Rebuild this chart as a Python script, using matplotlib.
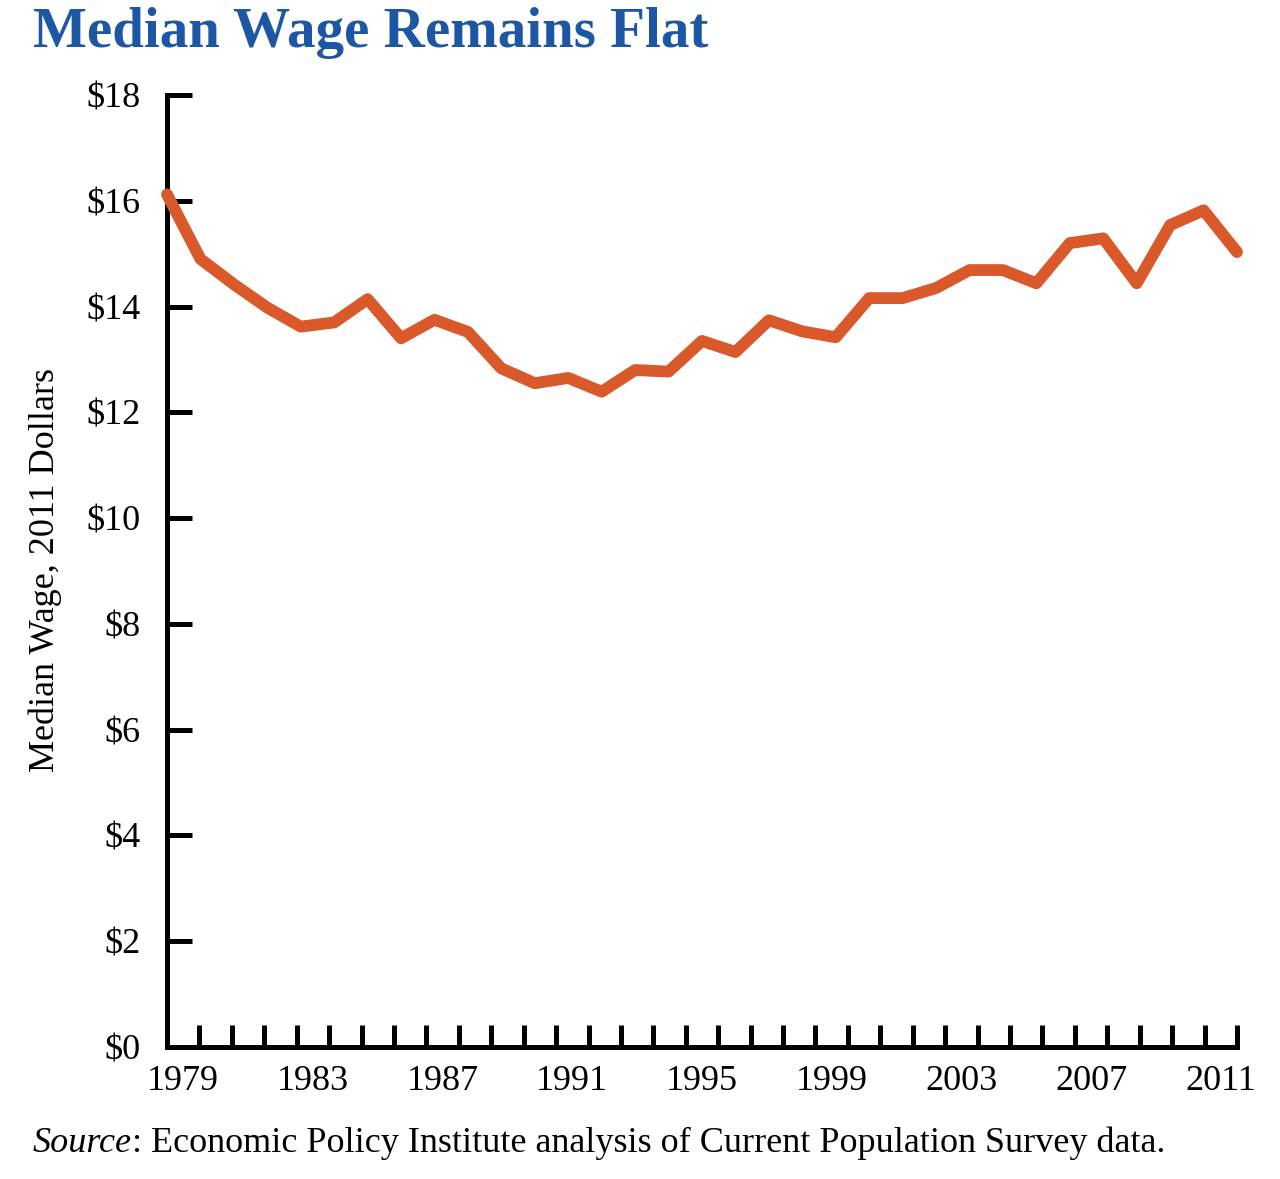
import numpy as np
import matplotlib.pyplot as plt

# Median hourly wage, 2011 dollars
years = list(range(1979, 2012))
wages = [16.12, 14.90, 14.42, 13.98, 13.62, 13.70, 14.14, 13.40, 13.75, 13.52,
         12.83, 12.55, 12.65, 12.39, 12.80, 12.77, 13.35, 13.14, 13.74, 13.53,
         13.42, 14.16, 14.16, 14.35, 14.69, 14.69, 14.44, 15.20, 15.29, 14.44,
         15.54, 15.82, 15.03]
label_years = years[::4]
y_ticks = list(range(0, 19, 2))
y_labels = ["$%d" % v for v in y_ticks]

TITLE = "Median Wage Remains Flat"
YLABEL = "Median Wage, 2011 Dollars"
SOURCE = ": Economic Policy Institute analysis of Current Population Survey data."

LINE_COLOR = "#d9592a"
TITLE_COLOR = "#1d56a3"
SERIF = "Liberation Serif"
FS = 26

plt.rcParams["font.family"] = SERIF

fig = plt.figure(figsize=(12.8, 11.79), dpi=100)
ax = fig.add_axes([167 / 1280, 1 - 1047 / 1179, (1237 - 167) / 1280, (1047 - 95) / 1179])

n = len(years)
x = np.arange(n)
ax.plot(x, wages, color=LINE_COLOR, lw=8.5, solid_capstyle="round",
        solid_joinstyle="round", clip_on=False, zorder=3)

ax.set_xlim(0, n - 1)
ax.set_ylim(0, 18)

# category-style axis: ticks on boundaries, labels centred in each slot
slot = (n - 1) / n
ax.set_xticks([k * slot for k in range(1, n + 1)])
ax.set_xticklabels([])
ax.set_xticks([(years.index(yr) + 0.5) * slot for yr in label_years], minor=True)
ax.set_xticklabels([str(yr) for yr in label_years], minor=True)
ax.tick_params(axis="x", which="major", direction="in", length=16, width=3.6)
ax.tick_params(axis="x", which="minor", length=0, pad=13, labelsize=FS)

ax.set_yticks(y_ticks)
ax.set_yticklabels([s.replace("$", "\\$") for s in y_labels])
ax.tick_params(axis="y", direction="in", length=18, width=3.6, pad=19, labelsize=FS)

for side in ["top", "right"]:
    ax.spines[side].set_visible(False)
for side in ["left", "bottom"]:
    ax.spines[side].set_linewidth(3.6)
    ax.spines[side].set_capstyle("projecting")

fig.text(33 / 1280, 0.994, TITLE, ha="left", va="top", fontsize=41,
         fontweight="bold", color=TITLE_COLOR)
fig.text(45 / 1280, 1 - 570 / 1179, YLABEL, rotation=90, ha="center",
         va="center", fontsize=FS)

src_y = 1 - 1152 / 1179
src = fig.text(33 / 1280, src_y, "Source", style="italic", fontsize=FS,
               ha="left", va="baseline")
fig.canvas.draw()
bb = src.get_window_extent(renderer=fig.canvas.get_renderer())
fig.text(bb.x1 / fig.bbox.width, src_y, SOURCE, fontsize=FS, ha="left",
         va="baseline")

fig.savefig("out.png", dpi=100)
